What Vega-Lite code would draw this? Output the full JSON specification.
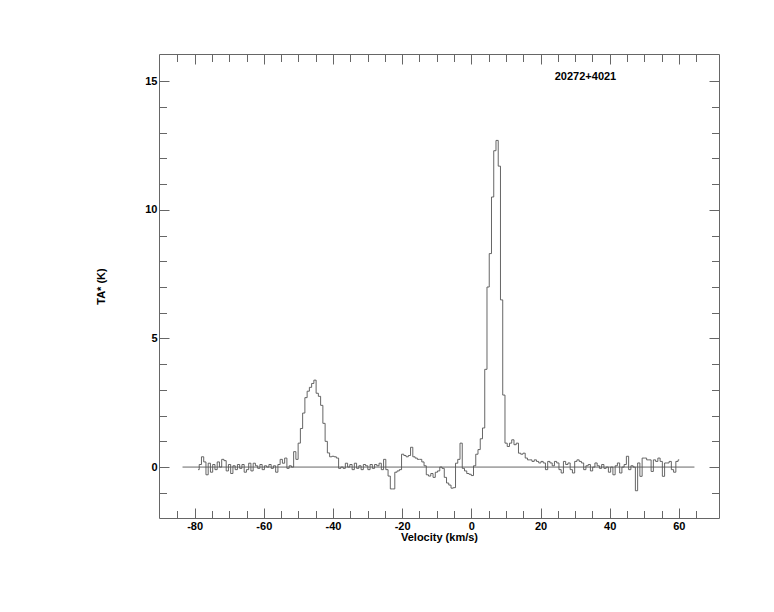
{
"$schema": "https://vega.github.io/schema/vega-lite/v6.json",
"width": 560, "height": 464,
"autosize": "none",
"padding": {"left": 159, "top": 54, "right": 55, "bottom": 94},
"background": "white",
"config": {"view": {"stroke": null}, "font": "Liberation Sans"},
"datasets": {
"spec": [
{"v":-79.0,"T":-0.1},{"v":-78.35,"T":0.1},{"v":-77.7,"T":0.4},{"v":-77.05,"T":0.2},{"v":-76.4,"T":-0.3},{"v":-75.75,"T":0.15},{"v":-75.1,"T":-0.2},{"v":-74.45,"T":0.1},{"v":-73.8,"T":-0.1},{"v":-73.15,"T":0.2},
{"v":-72.5,"T":0.0},{"v":-71.85,"T":0.3},{"v":-71.2,"T":0.25},{"v":-70.55,"T":-0.15},{"v":-69.9,"T":0.1},{"v":-69.25,"T":-0.25},{"v":-68.6,"T":0.05},{"v":-67.95,"T":-0.1},{"v":-67.3,"T":0.1},{"v":-66.65,"T":-0.05},
{"v":-66.0,"T":0.1},{"v":-65.35,"T":-0.2},{"v":-64.7,"T":-0.1},{"v":-64.05,"T":0.15},{"v":-63.4,"T":-0.15},{"v":-62.75,"T":0.15},{"v":-62.1,"T":0.05},{"v":-61.45,"T":-0.05},{"v":-60.8,"T":0.1},{"v":-60.15,"T":-0.1},
{"v":-59.5,"T":0.05},{"v":-58.85,"T":0.0},{"v":-58.2,"T":0.1},{"v":-57.55,"T":-0.05},{"v":-56.9,"T":0.05},{"v":-56.25,"T":-0.2},{"v":-55.6,"T":0.1},{"v":-54.95,"T":0.3},{"v":-54.3,"T":0.15},{"v":-53.65,"T":0.35},
{"v":-53.0,"T":-0.05},{"v":-52.35,"T":0.05},{"v":-51.7,"T":0.0},{"v":-51.05,"T":0.6},{"v":-50.4,"T":0.3},{"v":-49.75,"T":0.93},{"v":-49.1,"T":1.5},{"v":-48.45,"T":2.1},{"v":-47.8,"T":2.7},{"v":-47.15,"T":2.95},
{"v":-46.5,"T":3.1},{"v":-45.85,"T":3.25},{"v":-45.2,"T":3.38},{"v":-44.55,"T":2.87},{"v":-43.9,"T":2.75},{"v":-43.25,"T":2.4},{"v":-42.6,"T":1.7},{"v":-41.95,"T":1.0},{"v":-41.3,"T":0.55},{"v":-40.65,"T":0.4},
{"v":-40.0,"T":0.42},{"v":-39.35,"T":0.4},{"v":-38.7,"T":0.35},{"v":-38.05,"T":-0.05},{"v":-37.4,"T":0.0},{"v":-36.75,"T":-0.05},{"v":-36.1,"T":0.15},{"v":-35.45,"T":0.0},{"v":-34.8,"T":0.1},{"v":-34.15,"T":-0.1},
{"v":-33.5,"T":0.15},{"v":-32.85,"T":-0.05},{"v":-32.2,"T":0.05},{"v":-31.55,"T":-0.1},{"v":-30.9,"T":0.1},{"v":-30.25,"T":0.05},{"v":-29.6,"T":-0.1},{"v":-28.95,"T":0.1},{"v":-28.3,"T":-0.05},{"v":-27.65,"T":0.1},
{"v":-27.0,"T":0.05},{"v":-26.35,"T":0.15},{"v":-25.7,"T":-0.1},{"v":-25.05,"T":0.3},{"v":-24.4,"T":-0.1},{"v":-23.75,"T":-0.35},{"v":-23.1,"T":-0.85},{"v":-22.45,"T":-0.85},{"v":-21.8,"T":-0.2},{"v":-21.15,"T":-0.15},
{"v":-20.5,"T":-0.1},{"v":-19.85,"T":0.5},{"v":-19.2,"T":0.45},{"v":-18.55,"T":0.4},{"v":-17.9,"T":0.45},{"v":-17.25,"T":0.77},{"v":-16.6,"T":0.4},{"v":-15.95,"T":0.35},{"v":-15.3,"T":0.3},{"v":-14.65,"T":0.3},
{"v":-14.0,"T":0.2},{"v":-13.35,"T":0.05},{"v":-12.7,"T":-0.3},{"v":-12.05,"T":-0.35},{"v":-11.4,"T":-0.25},{"v":-10.75,"T":-0.4},{"v":-10.1,"T":-0.2},{"v":-9.45,"T":-0.15},{"v":-8.8,"T":0.0},{"v":-8.15,"T":-0.05},
{"v":-7.5,"T":-0.4},{"v":-6.85,"T":-0.62},{"v":-6.2,"T":-0.7},{"v":-5.55,"T":-0.82},{"v":-4.9,"T":-0.8},{"v":-4.25,"T":0.15},{"v":-3.6,"T":0.3},{"v":-2.95,"T":0.93},{"v":-2.3,"T":-0.05},{"v":-1.65,"T":-0.15},
{"v":-1.0,"T":-0.25},{"v":-0.35,"T":-0.28},{"v":0.3,"T":-0.33},{"v":0.95,"T":0.05},{"v":1.6,"T":0.5},{"v":2.25,"T":0.68},{"v":2.9,"T":1.1},{"v":3.55,"T":1.52},{"v":4.2,"T":3.8},{"v":4.85,"T":7.0},
{"v":5.5,"T":8.3},{"v":6.15,"T":10.5},{"v":6.8,"T":12.3},{"v":7.45,"T":12.7},{"v":8.1,"T":11.7},{"v":8.75,"T":6.5},{"v":9.4,"T":2.8},{"v":10.05,"T":0.93},{"v":10.7,"T":0.8},{"v":11.35,"T":0.93},
{"v":12.0,"T":1.06},{"v":12.65,"T":0.87},{"v":13.3,"T":0.93},{"v":13.95,"T":0.54},{"v":14.6,"T":0.5},{"v":15.25,"T":0.54},{"v":15.9,"T":0.35},{"v":16.55,"T":0.28},{"v":17.2,"T":0.28},{"v":17.85,"T":0.22},
{"v":18.5,"T":0.28},{"v":19.15,"T":0.22},{"v":19.8,"T":0.16},{"v":20.45,"T":0.22},{"v":21.1,"T":0.16},{"v":21.75,"T":-0.1},{"v":22.4,"T":0.22},{"v":23.05,"T":0.16},{"v":23.7,"T":0.05},{"v":24.35,"T":0.22},
{"v":25.0,"T":0.16},{"v":25.65,"T":-0.1},{"v":26.3,"T":-0.23},{"v":26.95,"T":0.22},{"v":27.6,"T":0.1},{"v":28.25,"T":0.16},{"v":28.9,"T":-0.1},{"v":29.55,"T":-0.23},{"v":30.2,"T":0.22},{"v":30.85,"T":0.28},
{"v":31.5,"T":0.22},{"v":32.15,"T":0.16},{"v":32.8,"T":-0.1},{"v":33.45,"T":0.05},{"v":34.1,"T":0.1},{"v":34.75,"T":-0.15},{"v":35.4,"T":0.0},{"v":36.05,"T":0.16},{"v":36.7,"T":0.05},{"v":37.35,"T":-0.05},
{"v":38.0,"T":0.1},{"v":38.65,"T":-0.05},{"v":39.3,"T":0.0},{"v":39.95,"T":-0.2},{"v":40.6,"T":0.0},{"v":41.25,"T":-0.3},{"v":41.9,"T":0.05},{"v":42.55,"T":0.16},{"v":43.2,"T":-0.23},{"v":43.85,"T":0.0},
{"v":44.5,"T":0.1},{"v":45.15,"T":0.42},{"v":45.8,"T":-0.1},{"v":46.45,"T":0.05},{"v":47.1,"T":0.0},{"v":47.75,"T":-0.92},{"v":48.4,"T":0.16},{"v":49.05,"T":-0.36},{"v":49.7,"T":0.35},{"v":50.35,"T":0.35},
{"v":51.0,"T":0.28},{"v":51.65,"T":0.28},{"v":52.3,"T":-0.17},{"v":52.95,"T":0.28},{"v":53.6,"T":0.22},{"v":54.25,"T":0.35},{"v":54.9,"T":0.22},{"v":55.55,"T":-0.36},{"v":56.2,"T":0.16},{"v":56.85,"T":0.16},
{"v":57.5,"T":0.22},{"v":58.15,"T":-0.1},{"v":58.8,"T":-0.2},{"v":59.45,"T":0.22},{"v":60.1,"T":0.28}
],
"base": [{"x0": -83.5, "x1": 64.5, "y0": 0}],
"label": [{"v": 33.0, "T": 15.18, "label": "20272+4021"}]
},
"resolve": {"axis": {"x": "independent", "y": "independent"}},
"layer": [
{
"data": {"name": "spec"},
"mark": {"type": "line", "interpolate": "step", "color": "#555", "strokeWidth": 0.9},
"encoding": {
"x": {"field": "v", "type": "quantitative",
 "scale": {"domain": [-90.3, 71.6], "nice": false, "zero": false},
 "axis": {"orient": "bottom", "values": [-85,-80,-75,-70,-65,-60,-55,-50,-45,-40,-35,-30,-25,-20,-15,-10,-5,0,5,10,15,20,25,30,35,40,45,50,55,60,65],
  "labelExpr": "datum.value % 20 === 0 ? ('' + datum.value) : ''",
  "tickSize": {"condition": {"test": "datum.value % 20 === 0", "value": -10}, "value": -7.5},
  "labelPadding": 12, "labelFont": "Liberation Sans", "labelFontWeight": "bold", "labelFontSize": 11, "labelColor": "#000",
  "labelOverlap": false, "labelFlush": false, "labelBound": false,
  "title": "Velocity (km/s)", "titleFont": "Liberation Sans", "titleFontWeight": "bold", "titleFontSize": 11, "titleColor": "#000",
  "titleY": 19, "titleBaseline": "middle",
  "domainColor": "#666", "tickColor": "#666", "grid": false}},
"y": {"field": "T", "type": "quantitative",
 "scale": {"domain": [-1.98, 16.06], "nice": false, "zero": false},
 "axis": {"orient": "left", "values": [-1,0,1,2,3,4,5,6,7,8,9,10,11,12,13,14,15],
  "labelExpr": "datum.value % 5 === 0 ? ('' + datum.value) : ''",
  "tickSize": {"condition": {"test": "datum.value % 5 === 0", "value": -10}, "value": -7.5},
  "labelPadding": 12, "labelFont": "Liberation Sans", "labelFontWeight": "bold", "labelFontSize": 11, "labelColor": "#000",
  "labelOverlap": false, "labelFlush": false, "labelBound": false,
  "title": "TA* (K)", "titleFont": "Liberation Sans", "titleFontWeight": "bold", "titleFontSize": 11, "titleColor": "#000",
  "titleX": -58, "titleY": 232, "titleAngle": 270, "titleAlign": "center", "titleBaseline": "middle",
  "domainColor": "#666", "tickColor": "#666", "grid": false}}
}
},
{
"data": {"name": "base"},
"mark": {"type": "rule", "color": "#555", "strokeWidth": 0.9},
"encoding": {
"x": {"field": "x0", "type": "quantitative",
 "scale": {"domain": [-90.3, 71.6], "nice": false, "zero": false},
 "axis": {"orient": "top", "values": [-85,-80,-75,-70,-65,-60,-55,-50,-45,-40,-35,-30,-25,-20,-15,-10,-5,0,5,10,15,20,25,30,35,40,45,50,55,60,65],
  "labels": false, "title": null,
  "tickSize": {"condition": {"test": "datum.value % 20 === 0", "value": -10}, "value": -7.5},
  "domainColor": "#666", "tickColor": "#666", "grid": false}},
"x2": {"field": "x1"},
"y": {"field": "y0", "type": "quantitative",
 "scale": {"domain": [-1.98, 16.06], "nice": false, "zero": false},
 "axis": {"orient": "right", "values": [-1,0,1,2,3,4,5,6,7,8,9,10,11,12,13,14,15],
  "labels": false, "title": null,
  "tickSize": {"condition": {"test": "datum.value % 5 === 0", "value": -10}, "value": -7.5},
  "domainColor": "#666", "tickColor": "#666", "grid": false}}
}
},
{
"data": {"name": "label"},
"mark": {"type": "text", "font": "Liberation Sans", "fontWeight": "bold", "fontSize": 11, "color": "#000", "align": "center", "baseline": "middle"},
"encoding": {
"x": {"field": "v", "type": "quantitative", "axis": null},
"y": {"field": "T", "type": "quantitative", "axis": null},
"text": {"field": "label"}
}
}
]
}
